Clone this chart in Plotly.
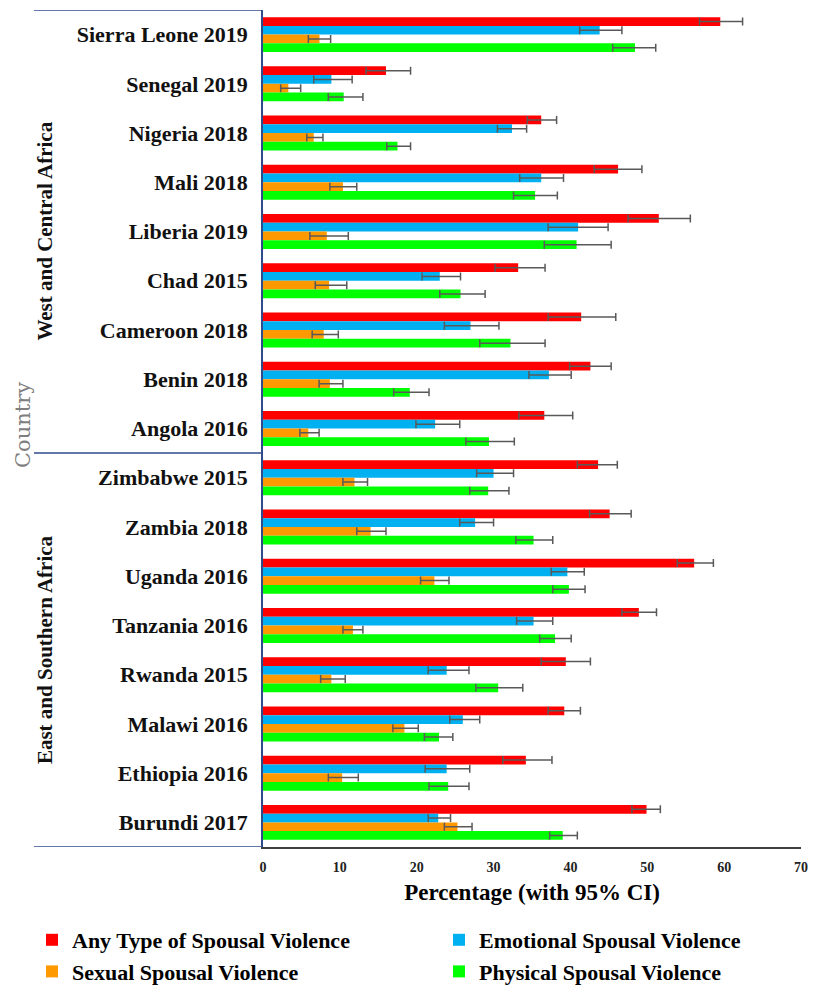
import plotly.graph_objects as go

countries = ["Sierra Leone 2019", "Senegal 2019", "Nigeria 2018", "Mali 2018", "Liberia 2019",
             "Chad 2015", "Cameroon 2018", "Benin 2018", "Angola 2016", "Zimbabwe 2015",
             "Zambia 2018", "Uganda 2016", "Tanzania 2016", "Rwanda 2015", "Malawi 2016",
             "Ethiopia 2016", "Burundi 2017"]

any_v = [59.5, 16.0, 36.2, 46.2, 51.5, 33.2, 41.4, 42.6, 36.6, 43.6, 45.1, 56.1, 48.9, 39.4, 39.2, 34.2, 49.9]
any_lo = [56.8, 13.4, 34.4, 43.1, 47.5, 30.2, 37.1, 39.9, 33.3, 40.9, 42.5, 53.9, 46.7, 36.2, 37.1, 31.2, 48.0]
any_hi = [62.4, 19.2, 38.2, 49.3, 55.6, 36.7, 45.9, 45.3, 40.3, 46.1, 47.9, 58.6, 51.2, 42.6, 41.3, 37.6, 51.7]

emo_v = [43.8, 8.9, 32.4, 36.2, 41.0, 23.0, 27.0, 37.2, 22.4, 30.0, 27.6, 39.6, 35.2, 23.9, 26.0, 23.9, 22.8]
emo_lo = [41.2, 6.6, 30.5, 33.4, 37.1, 20.7, 23.6, 34.6, 19.9, 27.8, 25.6, 37.5, 33.0, 21.5, 24.3, 21.1, 21.5]
emo_hi = [46.7, 11.6, 34.3, 39.1, 44.9, 25.7, 30.7, 40.1, 25.6, 32.6, 30.0, 41.8, 37.7, 26.8, 28.2, 26.9, 24.4]

sex_v = [7.35, 3.3, 6.6, 10.4, 8.3, 8.6, 7.9, 8.7, 5.9, 11.9, 14.0, 22.3, 11.7, 8.9, 18.4, 10.3, 25.3]
sex_lo = [5.9, 2.3, 5.7, 8.7, 6.1, 6.8, 6.4, 7.3, 4.8, 10.4, 12.2, 20.5, 10.4, 7.5, 16.9, 8.5, 23.6]
sex_hi = [8.8, 4.9, 7.8, 12.2, 11.1, 10.9, 9.8, 10.4, 7.3, 13.6, 16.0, 24.2, 13.0, 10.7, 20.2, 12.4, 27.2]

phy_v = [48.4, 10.5, 17.5, 35.4, 40.8, 25.7, 32.2, 19.1, 29.4, 29.3, 35.2, 39.8, 38.0, 30.6, 22.9, 24.1, 39.0]
phy_lo = [45.5, 8.5, 16.1, 32.6, 36.6, 23.0, 28.2, 17.0, 26.4, 26.9, 32.9, 37.7, 36.0, 27.7, 21.0, 21.6, 37.3]
phy_hi = [51.1, 13.0, 19.2, 38.3, 45.3, 28.9, 36.7, 21.6, 32.7, 32.0, 37.7, 41.9, 40.1, 33.8, 24.7, 26.8, 40.9]

series_names = ["Any Type of Spousal Violence", "Emotional Spousal Violence",
                "Sexual Spousal Violence", "Physical Spousal Violence"]
series_colors = ["#FF0000", "#00B0F0", "#FF9900", "#00FF00"]
series_legend = ["legend", "legend2", "legend", "legend2"]
x_ticks = [0, 10, 20, 30, 40, 50, 60, 70]
regions = ["West and Central Africa", "East and Southern Africa"]
region_start = [0, 9]
region_end = [8, 16]

NAVY = "#2F4B8C"
FONT = "Liberation Serif"

fig = go.Figure()
for name, col, lg, v, lo, hi in zip(series_names, series_colors, series_legend,
                                    [any_v, emo_v, sex_v, phy_v],
                                    [any_lo, emo_lo, sex_lo, phy_lo],
                                    [any_hi, emo_hi, sex_hi, phy_hi]):
    fig.add_trace(go.Bar(
        y=countries, x=v, orientation="h", name=name, legend=lg,
        marker=dict(color=col, line=dict(width=0)),
        error_x=dict(type="data", symmetric=False,
                     array=[h - a for h, a in zip(hi, v)],
                     arrayminus=[a - l for a, l in zip(v, lo)],
                     color="#595959", thickness=1.5, width=4),
    ))

PL = 263.0   # plot-area left (screen px)
PW = 538.0   # plot-area width
PB = 847.0   # plot-area bottom
PH = 837.0   # plot-area height

legend_font = dict(size=22, family=FONT, color="#000000", weight="bold")

fig.update_layout(
    width=840, height=989,
    margin=dict(l=255, r=840 - 255 - 538, t=2, b=150),
    plot_bgcolor="white", paper_bgcolor="white",
    barmode="group", bargap=0.29, bargroupgap=0,
    font=dict(family=FONT, color="#000000"),
    xaxis=dict(range=[0, 70], tickvals=x_ticks, showgrid=False, zeroline=False,
               showline=True, linecolor="#404040", linewidth=2, ticks="",
               ticklabelstandoff=6,
               tickfont=dict(size=14, family=FONT, color="#222222", weight="bold"),
               title=dict(text="Percentage (with 95% CI)", standoff=10,
                          font=dict(size=23, family=FONT, color="#000000", weight="bold"))),
    yaxis=dict(range=[16.5, -0.5], categoryorder="array", categoryarray=countries,
               showgrid=False, zeroline=False, showline=True, linecolor=NAVY, linewidth=1.5,
               ticks="", ticklabelstandoff=9,
               tickfont=dict(size=22, family=FONT, color="#111111", weight="bold")),
    legend=dict(orientation="v", x=(32 - PL) / PW, xanchor="left",
                y=(PB - 919) / PH, yanchor="top", itemwidth=30,
                font=legend_font, traceorder="normal"),
    legend2=dict(orientation="v", x=(439 - PL) / PW, xanchor="left",
                 y=(PB - 919) / PH, yanchor="top", itemwidth=30,
                 font=legend_font, traceorder="normal"),
)

# left-side group borders
x_left = (34 - PL) / PW
for yv in [-0.5, 8.5, 16.5]:
    fig.add_shape(type="line", xref="paper", yref="y", x0=x_left, x1=0, y0=yv, y1=yv,
                  line=dict(color=NAVY, width=1.5))

for txt, s, e in zip(regions, region_start, region_end):
    fig.add_annotation(text=txt, xref="paper", yref="y", x=(45 - PL) / PW, y=(s + e) / 2,
                       textangle=-90, showarrow=False, xanchor="center", yanchor="middle",
                       font=dict(size=21, family=FONT, color="#111111", weight="bold"))

fig.add_annotation(text="Country", xref="paper", yref="paper", x=(23 - PL) / PW, y=(PB - 425) / PH,
                   textangle=-90, showarrow=False, xanchor="center", yanchor="middle",
                   font=dict(size=21, family="DejaVu Serif", color="#7F7F7F"))

fig.write_html("out.html")
